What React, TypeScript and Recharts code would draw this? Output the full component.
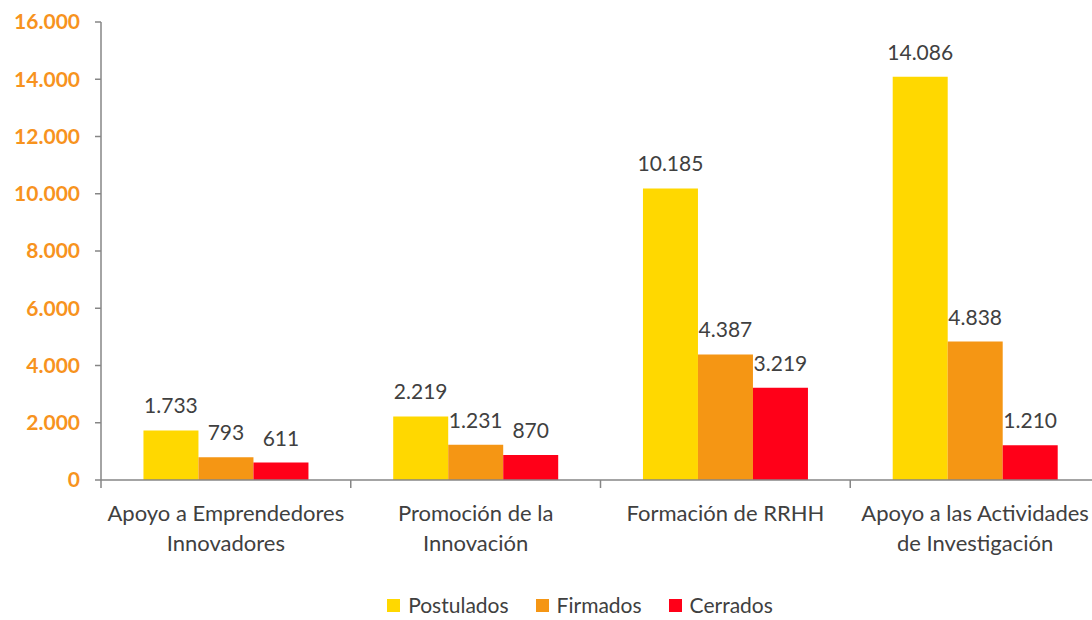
import { BarChart, Bar, XAxis, YAxis, Legend, LabelList } from 'recharts'

const categories = [
  'Apoyo a Emprendedores Innovadores',
  'Promoción de la Innovación',
  'Formación de RRHH',
  'Apoyo a las Actividades de Investigación',
]
const categoryLines = [
  ['Apoyo a Emprendedores', 'Innovadores'],
  ['Promoción de la', 'Innovación'],
  ['Formación de RRHH'],
  ['Apoyo a las Actividades', 'de Investigación'],
]
const postulados = [1733, 2219, 10185, 14086]
const firmados = [793, 1231, 4387, 4838]
const cerrados = [611, 870, 3219, 1210]
const yTicks = [0, 2000, 4000, 6000, 8000, 10000, 12000, 14000, 16000]

const series = [
  { key: 'postulados', name: 'Postulados', color: '#FFD800' },
  { key: 'firmados', name: 'Firmados', color: '#F59614' },
  { key: 'cerrados', name: 'Cerrados', color: '#FF0018' },
]

const data = categories.map((c, i) => ({
  name: c,
  postulados: postulados[i],
  firmados: firmados[i],
  cerrados: cerrados[i],
}))

const CHART_W = 1100
const CHART_H = 620
const Y_W = 101
const FONT = 'Lato, "Open Sans", sans-serif'
const TEXT = '#404040'
const AXIS = '#868686'

const fmt = (v: number) => String(v).replace(/\B(?=(\d{3})+(?!\d))/g, '.')

const bandWidth = (CHART_W - Y_W) / categories.length

const XTick = (props: any) => {
  const { x, y, index } = props
  const lines = categoryLines[index] || []
  const left = x - bandWidth / 2
  return (
    <g>
      <line x1={left} x2={left} y1={y} y2={y + 8} stroke={AXIS} strokeWidth={1.5} />
      {index === categories.length - 1 && (
        <line x1={x + bandWidth / 2} x2={x + bandWidth / 2} y1={y} y2={y + 8} stroke={AXIS} strokeWidth={1.5} />
      )}
      {lines.map((l, i) => (
        <text
          key={i}
          x={x}
          y={y + 32 + i * 30}
          textAnchor="middle"
          dominantBaseline="central"
          fill={TEXT}
          fontSize={22}
          fontFamily={FONT}
        >
          {l}
        </text>
      ))}
    </g>
  )
}

const LegendContent = () => (
  <div
    style={{
      display: 'flex',
      justifyContent: 'center',
      alignItems: 'center',
      gap: 27,
      paddingLeft: 68,
      fontFamily: FONT,
      fontSize: 21,
      lineHeight: '22px',
      color: TEXT,
    }}
  >
    {series.map((s) => (
      <div key={s.key} style={{ display: 'flex', alignItems: 'center' }}>
        <span style={{ width: 13, height: 13, background: s.color, display: 'inline-block', marginRight: 8 }} />
        <span>{s.name}</span>
      </div>
    ))}
  </div>
)

export default function App() {
  return (
    <div style={{ position: 'fixed', left: 0, top: 0, width: 1092, height: 620, overflow: 'hidden', background: '#fff' }}>
      <BarChart
        width={CHART_W}
        height={CHART_H}
        data={data}
        margin={{ top: 22, right: 0, bottom: 0, left: 0 }}
        barCategoryGap="17%"
        barGap={0}
      >
        <XAxis
          dataKey="name"
          axisLine={{ stroke: AXIS, strokeWidth: 1.5 }}
          tickLine={false}
          tickSize={0}
          tickMargin={0}
          height={140}
          interval={0}
          tick={<XTick />}
        />
        <YAxis
          width={Y_W}
          domain={[0, 16000]}
          ticks={yTicks}
          interval={0}
          axisLine={{ stroke: AXIS, strokeWidth: 1.5 }}
          tickLine={{ stroke: AXIS, strokeWidth: 1.5 }}
          tickSize={6}
          tickMargin={15}
          tickFormatter={fmt}
          tick={{ fill: '#F7931E', fontSize: 21, fontWeight: 700, fontFamily: FONT }}
        />
        <Legend
          layout="horizontal"
          verticalAlign="middle"
          align="center"
          wrapperStyle={{ top: 594, left: 0, width: 1092 }}
          content={<LegendContent />}
        />
        {series.map((s) => (
          <Bar key={s.key} dataKey={s.key} name={s.name} fill={s.color} isAnimationActive={false}>
            <LabelList
              dataKey={s.key}
              position="top"
              offset={17}
              formatter={(v: any) => fmt(Number(v))}
              fill={TEXT}
              fontSize={21}
              fontFamily={FONT}
            />
          </Bar>
        ))}
      </BarChart>
    </div>
  )
}
